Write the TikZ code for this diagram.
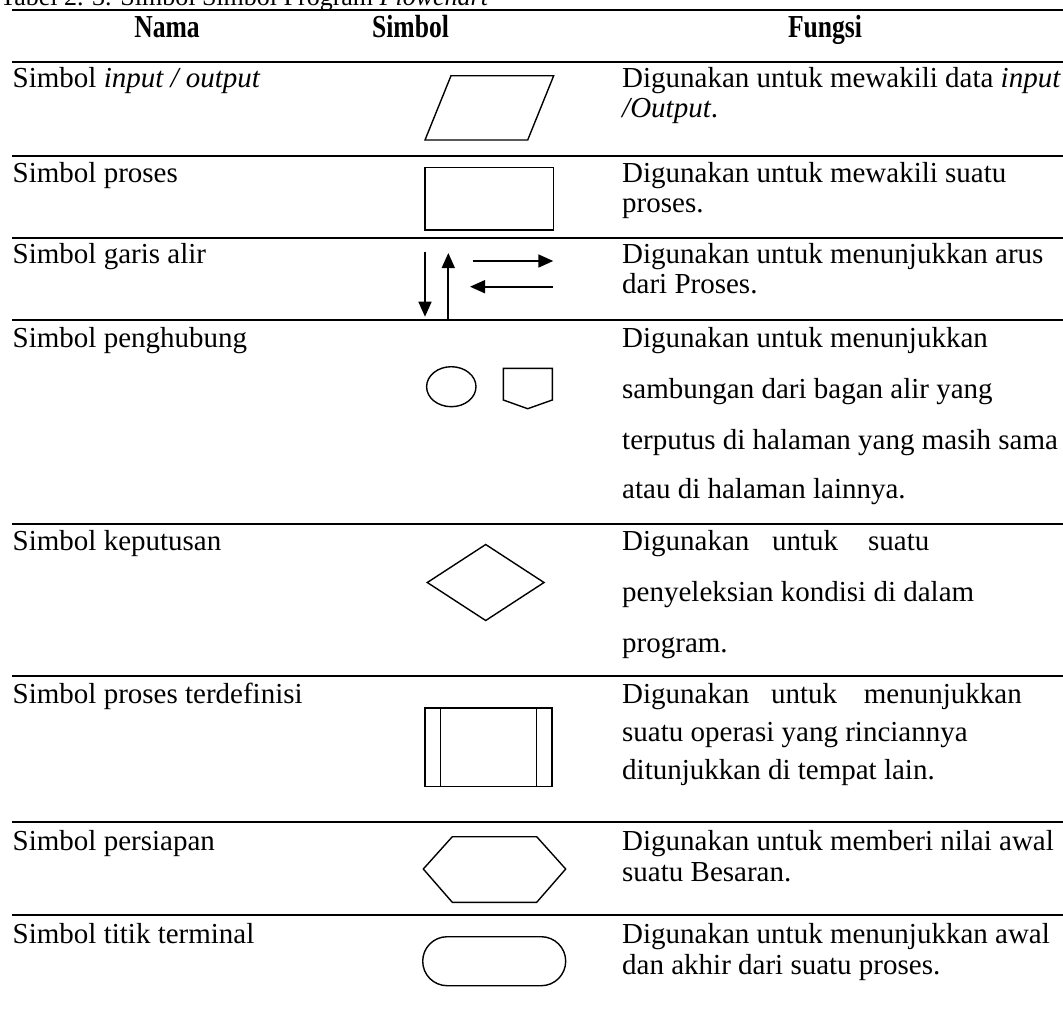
\documentclass[tikz,border=0pt]{standalone}
\usepackage{fontspec}
\setmainfont{Liberation Serif}
\usepackage{graphicx}
\usetikzlibrary{arrows.meta}
\begin{document}
\begin{tikzpicture}[x=1pt,y=-1pt,
  rule/.style={line width=2pt},
  sym/.style={line width=1.4pt, line join=miter},
  flow/.style={line width=1.7pt,-{Triangle[length=15pt,width=13pt]}},
  cell/.style={anchor=base west, inner sep=0pt, font=\fontsize{29}{30}\selectfont},
  head/.style={anchor=base, inner sep=0pt, font=\fontsize{32}{32}\selectfont\bfseries},
]
\useasboundingbox (0,0) rectangle (1063,1021);
\clip (0,0) rectangle (1063,1021);

% caption (its upper part lies above the page)
\node[anchor=base west, inner sep=0pt, font=\fontsize{26}{26}\selectfont] (cap) at (0,5)
  {Tabel 2. 3. Simbol Simbol Program \textit{Flowchart}};

% horizontal rules
\foreach \y in {10,61.5,156,237.5,320,524,676,822,915}
  \draw[rule] (12,\y) -- (1063,\y);

% header
\node[head] (hNama)   at (167,37)   {\scalebox{0.8}[1]{Nama}};
\node[head] (hSimbol) at (410.5,37) {\scalebox{0.8}[1]{Simbol}};
\node[head] (hFungsi) at (825,37)   {\scalebox{0.8}[1]{Fungsi}};

% names
\node[cell] (n1) at (12.5,87)    {Simbol \textit{input / output}};
\node[cell] (n2) at (12.5,182.5) {Simbol proses};
\node[cell] (n3) at (12.5,263.5) {Simbol garis alir};
\node[cell] (n4) at (12.5,347)   {Simbol penghubung};
\node[cell] (n5) at (12.5,550.5) {Simbol keputusan};
\node[cell] (n6) at (12.5,703)   {Simbol proses terdefinisi};
\node[cell] (n7) at (12.5,850)   {Simbol persiapan};
\node[cell] (n8) at (12.5,943)   {Simbol titik terminal};

% descriptions
\node[cell] (f1a) at (622,87)    {Digunakan untuk mewakili data \textit{input}};
\node[cell] (f1b) at (622,117.5) {\textit{/Output}.};
\node[cell] (f2a) at (622,182.5) {Digunakan untuk mewakili suatu};
\node[cell] (f2b) at (622,212)   {proses.};
\node[cell] (f3a) at (622,263.5) {Digunakan untuk menunjukkan arus};
\node[cell] (f3b) at (622,293.5) {dari Proses.};
\node[cell] (f4a) at (622,347)   {Digunakan untuk menunjukkan};
\node[cell] (f4b) at (622,398)   {sambungan dari bagan alir yang};
\node[cell] (f4c) at (622,449.5) {terputus di halaman yang masih sama};
\node[cell] (f4d) at (622,498)   {atau di halaman lainnya.};
\node[cell] (f5a) at (622,550.5) {Digunakan\hspace{22.7pt}untuk\hspace{30pt}suatu};
\node[cell] (f5b) at (622,601.5) {penyeleksian kondisi di dalam};
\node[cell] (f5c) at (622,652)   {program.};
\node[cell] (f6a) at (622,703)   {Digunakan\hspace{21.7pt}untuk\hspace{26.7pt}menunjukkan};
\node[cell] (f6b) at (622,741.5) {suatu operasi yang rinciannya};
\node[cell] (f6c) at (622,779.5) {ditunjukkan di tempat lain.};
\node[cell] (f7a) at (622,850)   {Digunakan untuk memberi nilai awal};
\node[cell] (f7b) at (622,881)   {suatu Besaran.};
\node[cell] (f8a) at (622,943)   {Digunakan untuk menunjukkan awal};
\node[cell] (f8b) at (622,974)   {dan akhir dari suatu proses.};

% input / output
\draw[sym] (451,75.7) -- (553.7,75.7) -- (527.7,140) -- (425,140) -- cycle;
% process
\draw[sym] (425,167.3) rectangle (553.7,230);
% flow lines
\coordinate (dA) at (425,251.7);   \coordinate (dB) at (425,316.7);
\coordinate (uA) at (448.3,320);   \coordinate (uB) at (448.3,253);
\coordinate (rA) at (472.7,261);   \coordinate (rB) at (553.3,261);
\coordinate (lA) at (552.7,286.7); \coordinate (lB) at (470,286.7);
\draw[flow] (dA) -- (dB);
\draw[flow] (uA) -- (uB);
\draw[flow] (rA) -- (rB);
\draw[flow] (lA) -- (lB);
% connectors
\draw[sym] (451.3,386.7) ellipse [x radius=24.7, y radius=20];
\draw[sym] (503.3,368.3) -- (552.3,368.3) -- (552.3,400) -- (527.7,408.7) -- (503.3,400) -- cycle;
% decision
\draw[sym] (427.3,582.5) -- (485.7,544.5) -- (544,582.5) -- (485.7,620.5) -- cycle;
% predefined process
\draw[sym] (425,708) rectangle (552,786.7);
\draw[sym] (440.7,708) -- (440.7,786.7);
\draw[sym] (536.3,708) -- (536.3,786.7);
% preparation
\draw[sym] (423.3,869) -- (452.3,836.7) -- (536.7,836.7) -- (565.7,869) -- (536.7,902.3) -- (452.3,902.3) -- cycle;
% terminal
\draw[sym, rounded corners=24.5pt] (422.7,936.7) rectangle (565.7,985.7);
\end{tikzpicture}
\end{document}
